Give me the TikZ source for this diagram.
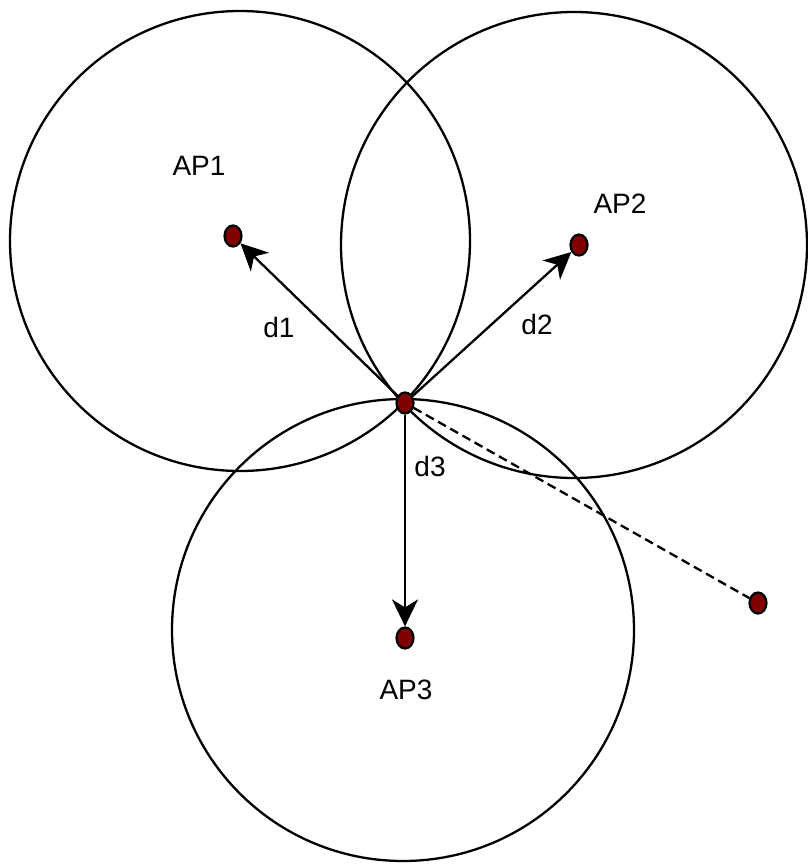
\documentclass[tikz,border=0pt]{standalone}
\usepackage{fontspec}
\setmainfont{Liberation Sans}
\usetikzlibrary{arrows.meta,shapes.geometric}
\definecolor{dotred}{HTML}{800000}
\tikzset{
  apdot/.style={ellipse, draw=black, line width=2.2pt, fill=dotred, minimum width=17pt, minimum height=21pt, inner sep=0pt},
  reach/.style={draw, line width=2.3pt},
  dist/.style={draw, line width=2.3pt, -{Stealth[length=27pt, width=26pt, inset=8pt]}},
  lbl/.style={font=\fontsize{28}{33}\selectfont}
}
\begin{document}
\begin{tikzpicture}[x=1pt, y=-1pt]

	% frame
	\useasboundingbox (0,0) rectangle (807,864);

	% ranges
	\draw[reach] (240,241) circle[radius=230];
	\draw[reach] (574,245) circle[radius=233];
	\draw[reach] (403,630) circle[radius=231];

	% points
	\node[apdot] (ap1) at (233,236) {};
	\node[apdot] (ap2) at (579,245) {};
	\node[apdot] (ap3) at (405,638) {};
	\node[apdot] (me) at (405,403) {};
	\node[apdot] (far) at (758,603) {};

	% distances
	\draw[dist] (me) -- (ap1);
	\draw[dist] (me) -- (ap2);
	\draw[dist] (me) -- (ap3);
	\draw[line width=2.3pt, dash pattern=on 9pt off 5pt] (me) -- (far);

	% labels
	\node[lbl] (t1) at (199,166) {AP1};
	\node[lbl] (t2) at (620,204) {AP2};
	\node[lbl] (t3) at (406,690) {AP3};
	\node[lbl] (l1) at (279,327) {d1};
	\node[lbl] (l2) at (537,324) {d2};
	\node[lbl] (l3) at (430,466) {d3};

\end{tikzpicture}
\end{document}
